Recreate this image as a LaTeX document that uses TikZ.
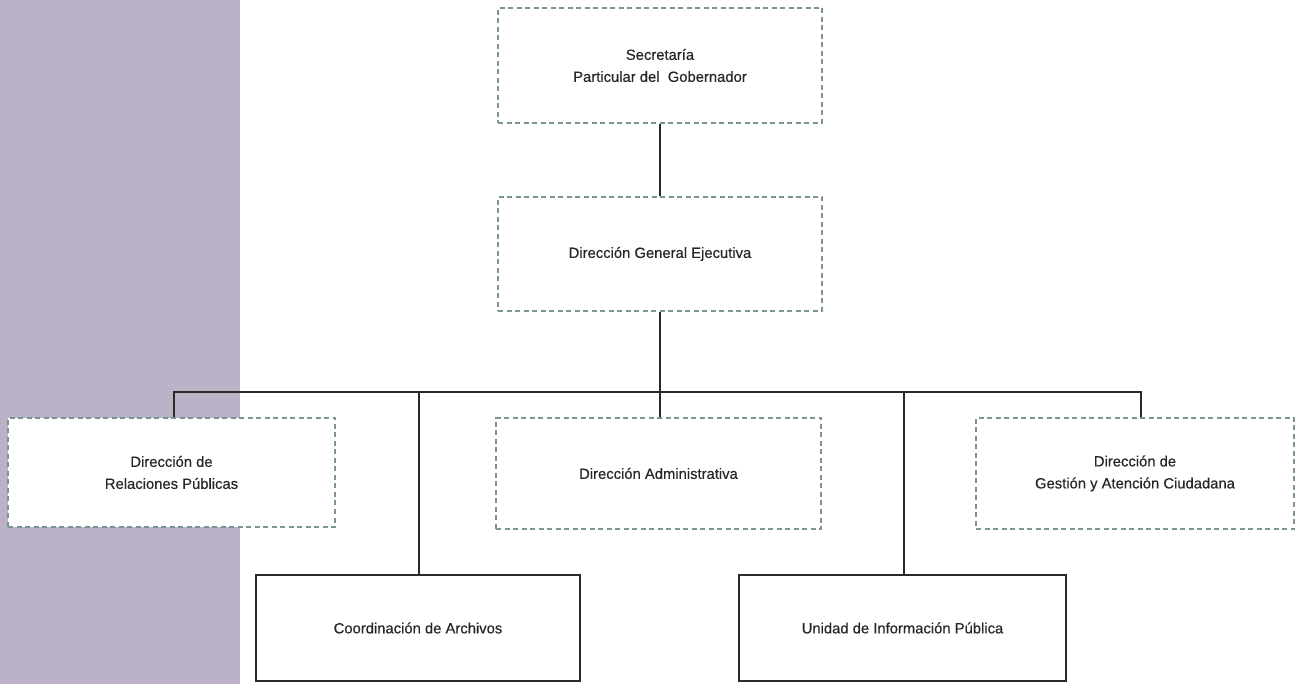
\documentclass[tikz,border=0pt]{standalone}
\usepackage{fontspec}
\setmainfont{Liberation Sans}
\newfontfamily\labfont{Liberation Sans}[FakeBold=0.35]
\definecolor{band}{HTML}{BCB2C8}
\definecolor{dashc}{HTML}{7A9496}
\definecolor{txt}{HTML}{262626}
\definecolor{linec}{HTML}{2A2A2A}
\tikzset{
  dbox/.style={draw=dashc, line width=1.1pt, dash pattern=on 5pt off 3.5pt, fill=white, rectangle, inner sep=0pt,
    font=\labfont\fontsize{14.8}{22}\selectfont, text=txt, align=center},
  sbox/.style={draw=linec, line width=1.2pt, fill=white, rectangle, inner sep=0pt,
    font=\labfont\fontsize{14.8}{22}\selectfont, text=txt, align=center},
  conn/.style={draw=linec, line width=1.2pt}
}
\begin{document}
\begin{tikzpicture}[x=1pt,y=-1pt]
\useasboundingbox (0,0) rectangle (1302,684);
\fill[band] (0,0) rectangle (240,684);
\coordinate (busL) at (174,392);
\coordinate (busR) at (1141,392);
\coordinate (busC) at (660,392);
\coordinate (busA) at (419,392);
\coordinate (busU) at (904,392);
\node[dbox, minimum width=324pt, minimum height=115pt] (sec) at (660,65.5) {Secretaría\\Particular del\ \ Gobernador};
\node[dbox, minimum width=324pt, minimum height=114pt] (dge) at (660,254) {Dirección General Ejecutiva};
\draw[conn] (sec.south) -- (dge.north);
\node[dbox, minimum width=327pt, minimum height=109pt] (drp) at (171.5,472.5) {Dirección de\\Relaciones Públicas};
\node[dbox, minimum width=325pt, minimum height=111pt] (da) at (658.5,473.5) {Dirección Administrativa};
\node[dbox, minimum width=318pt, minimum height=111pt] (dgac) at (1135,473.5) {Dirección de\\Gestión y Atención Ciudadana};
\node[sbox, minimum width=324pt, minimum height=106pt] (ca) at (418,628) {Coordinación de Archivos};
\node[sbox, minimum width=327pt, minimum height=106pt] (uip) at (902.5,628) {Unidad de Información Pública};
\draw[conn] (dge.south) -- (busC) -- (busC |- da.north);
\draw[conn] (busL |- drp.north) -- (busL) -- (busR) -- (busR |- dgac.north);
\draw[conn] (busA) -- (busA |- ca.north);
\draw[conn] (busU) -- (busU |- uip.north);
\end{tikzpicture}
\end{document}
